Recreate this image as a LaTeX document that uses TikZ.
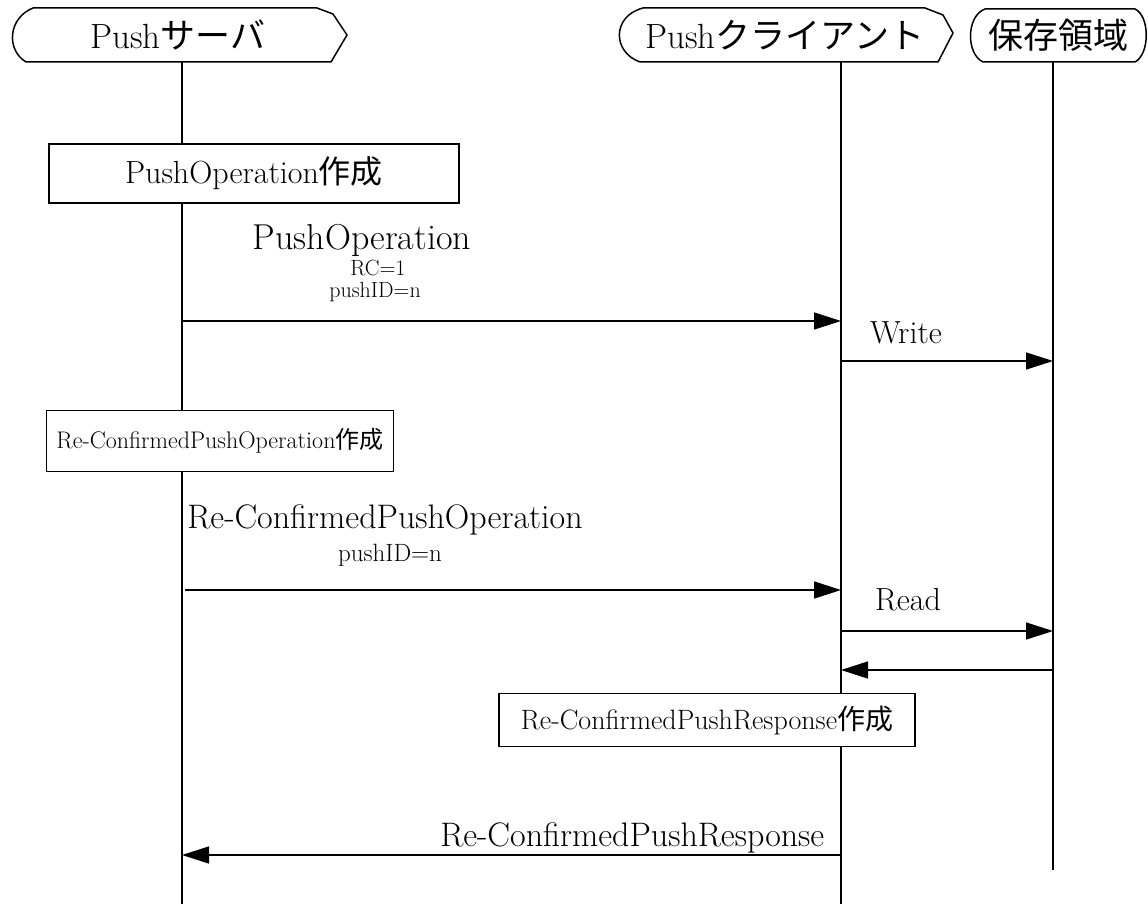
\documentclass[tikz,border=0pt]{standalone}
\usepackage{fontspec}
\newfontfamily\cjk{Noto Sans CJK JP}
\usetikzlibrary{arrows.meta}
\begin{document}
\begin{tikzpicture}[x=1pt,y=-1pt, line width=1.5pt,
  msg/.style={-{Triangle[length=27pt,width=17pt]}},
  hdrtext/.style={font=\fontsize{35}{40}\selectfont, inner sep=0pt},
  box/.style={draw, fill=white, line width=1.5pt, inner xsep=10pt, inner ysep=0pt},
  lbl/.style={font=\fontsize{34}{38}\selectfont, inner sep=0pt},
  rw/.style={font=\fontsize{32}{36}\selectfont, inner sep=0pt},
  small/.style={font=\fontsize{22}{24}\selectfont, inner sep=0pt}]
\useasboundingbox (0,0) rectangle (1148,904);
% header shapes
\draw (33,8) -- (317,8) -- (333,14) -- (347,35) -- (331,62) -- (26,62)
  .. controls (6,50) and (8,18) .. (33,8) -- cycle;
\draw (643,8) -- (925,8) -- (943,15) -- (953,33) -- (938,62) -- (640,62)
  .. controls (612,52) and (612,16) .. (643,8) -- cycle;
\draw (985,9) -- (1135,9) .. controls (1150,16) and (1150,54) .. (1135,62) -- (983,62)
  .. controls (966,54) and (966,16) .. (985,9) -- cycle;
\node[hdrtext] (srv) at (178,35) {Push{\cjk サーバ}};
\node[hdrtext] (cli) at (785,35) {Push{\cjk クライアント}};
\node[hdrtext] (sto) at (1058,35) {{\cjk 保存領域}};
% lifelines
\coordinate (s0) at (182,62); \coordinate (s1) at (182,904);
\coordinate (c0) at (841,62); \coordinate (c1) at (841,904);
\coordinate (t0) at (1053,62); \coordinate (t1) at (1053,870);
\draw (s0) -- (s1);
\draw (c0) -- (c1);
\draw (t0) -- (t1);
% boxes
\node[box, font=\fontsize{32}{36}\selectfont, minimum width=410pt, minimum height=59pt] (b1) at (254,173.5) {PushOperation{\cjk 作成}};
\node[box, font=\fontsize{24}{28}\selectfont, minimum width=336pt, minimum height=61pt] (b2) at (220,441) {Re-ConfirmedPushOperation{\cjk 作成}};
\node[box, font=\fontsize{28}{32}\selectfont, minimum width=416pt, minimum height=53pt] (b3) at (707,720) {Re-ConfirmedPushResponse{\cjk 作成}};
% message 1
\node[lbl, font=\fontsize{36}{40}\selectfont] (l1) at (362,240) {PushOperation};
\node[small] (l1b) at (378,268) {RC=1};
\node[small] (l1c) at (375,292) {pushID=n};
\coordinate (a1s) at (182,321); \coordinate (a1e) at (841,321);
\draw[msg] (a1s) -- (a1e);
% write
\node[rw] (w) at (906,333) {Write};
\coordinate (w1s) at (841,361); \coordinate (w1e) at (1053,361);
\draw[msg] (w1s) -- (w1e);
% message 2
\node[lbl] (l2) at (385,520) {Re-ConfirmedPushOperation};
\node[small, font=\fontsize{25}{28}\selectfont] (l2b) at (390,555) {pushID=n};
\coordinate (a2s) at (185,590); \coordinate (a2e) at (841,590);
\draw[msg] (a2s) -- (a2e);
% read
\node[rw] (r) at (908,600) {Read};
\coordinate (r1s) at (841,631); \coordinate (r1e) at (1053,631);
\draw[msg] (r1s) -- (r1e);
\coordinate (r2s) at (1053,670); \coordinate (r2e) at (841,670);
\draw[msg] (r2s) -- (r2e);
% response
\node[lbl, anchor=east] (l3) at (825,838) {Re-ConfirmedPushResponse};
\coordinate (a3s) at (841,855); \coordinate (a3e) at (182,855);
\draw[msg] (a3s) -- (a3e);
\end{tikzpicture}
\end{document}
